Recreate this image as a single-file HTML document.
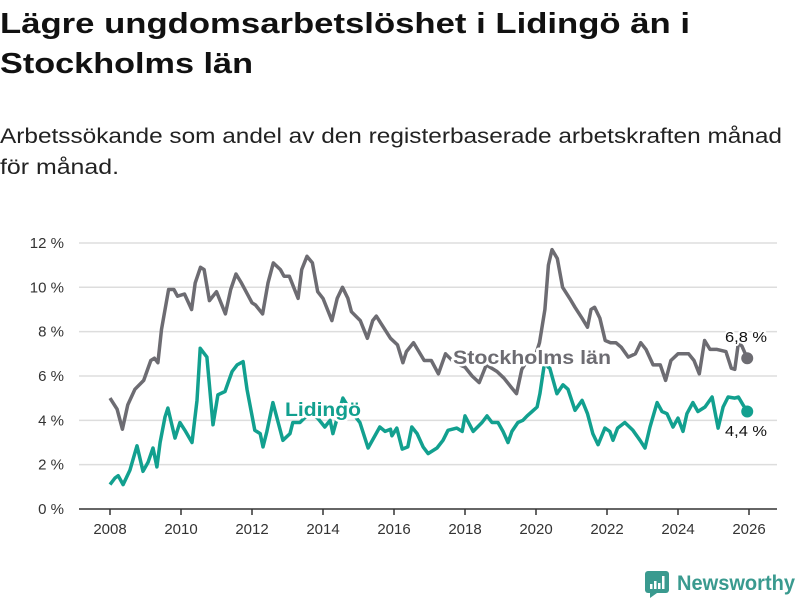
<!DOCTYPE html>
<html><head><meta charset="utf-8"><style>
html,body{margin:0;padding:0;background:#fff;}
svg{display:block;font-family:"Liberation Sans","DejaVu Sans",sans-serif;}
</style></head><body>
<svg id="chart" width="800" height="600" viewBox="0 0 800 600">
<text x="0" y="33" font-size="29" font-weight="bold" fill="#111" textLength="690" lengthAdjust="spacingAndGlyphs">Lägre ungdomsarbetslöshet i Lidingö än i</text>
<text x="0" y="73" font-size="29" font-weight="bold" fill="#111" textLength="253" lengthAdjust="spacingAndGlyphs">Stockholms län</text>
<text x="0" y="143" font-size="21" fill="#222" textLength="782" lengthAdjust="spacingAndGlyphs">Arbetssökande som andel av den registerbaserade arbetskraften månad</text>
<text x="0" y="174" font-size="21" fill="#222" textLength="119" lengthAdjust="spacingAndGlyphs">för månad.</text>
<g id="grid"></g><g id="axes"></g><g id="lines"></g><g id="labels"></g>
<g>
<rect x="645" y="571" width="24" height="22" rx="3" fill="#3a9a8f"/>
<polygon points="650,593 657,593 650,598" fill="#3a9a8f"/>
<rect x="650" y="584" width="2.5" height="5" fill="#fff"/><rect x="654" y="581" width="2.5" height="8" fill="#fff"/><rect x="658" y="583" width="2.5" height="6" fill="#fff"/><rect x="662" y="576" width="2.5" height="13" fill="#fff"/>
<text x="677" y="590" font-size="21" font-weight="bold" fill="#3a9a8f" textLength="118" lengthAdjust="spacingAndGlyphs">Newsworthy</text>
</g>
</svg>
<script>
const yTicks=[0,2,4,6,8,10,12];
const xTicks=[2008,2010,2012,2014,2016,2018,2020,2022,2024,2026];
const sthlmYears=[2008.0,2008.2,2008.35,2008.5,2008.7,2008.95,2009.15,2009.25,2009.35,2009.45,2009.65,2009.8,2009.9,2010.1,2010.3,2010.4,2010.55,2010.65,2010.8,2011.0,2011.25,2011.4,2011.55,2011.7,2011.9,2012.0,2012.1,2012.3,2012.45,2012.6,2012.8,2012.9,2013.05,2013.3,2013.4,2013.55,2013.7,2013.85,2014.0,2014.25,2014.4,2014.55,2014.7,2014.8,2015.05,2015.25,2015.4,2015.5,2015.7,2015.9,2016.1,2016.25,2016.35,2016.55,2016.7,2016.85,2017.05,2017.25,2017.45,2017.7,2018.0,2018.2,2018.4,2018.6,2018.9,2019.1,2019.3,2019.45,2019.6,2019.8,2020.0,2020.1,2020.25,2020.35,2020.45,2020.6,2020.75,2020.95,2021.1,2021.3,2021.45,2021.55,2021.65,2021.8,2021.95,2022.1,2022.25,2022.4,2022.6,2022.8,2022.95,2023.1,2023.3,2023.5,2023.65,2023.8,2024.0,2024.3,2024.45,2024.6,2024.75,2024.9,2025.1,2025.35,2025.5,2025.6,2025.7,2025.8,2025.95];
const sthlmValues=[5.0,4.5,3.6,4.7,5.4,5.8,6.7,6.8,6.6,8.1,9.9,9.9,9.6,9.7,9.0,10.2,10.9,10.8,9.4,9.8,8.8,9.9,10.6,10.2,9.6,9.3,9.2,8.8,10.2,11.1,10.8,10.5,10.5,9.5,10.8,11.4,11.1,9.8,9.5,8.5,9.5,10.0,9.5,8.9,8.5,7.7,8.5,8.7,8.2,7.7,7.4,6.6,7.1,7.5,7.1,6.7,6.7,6.1,7.0,6.6,6.4,6.0,5.7,6.5,6.2,5.9,5.5,5.2,6.3,6.8,7.0,7.5,9.0,11.0,11.7,11.3,10.0,9.5,9.1,8.6,8.2,9.0,9.1,8.6,7.6,7.5,7.5,7.3,6.85,7.0,7.5,7.2,6.5,6.5,5.8,6.7,7.0,7.0,6.7,6.1,7.6,7.2,7.2,7.1,6.35,6.3,7.5,7.35,6.8];
const lidYears=[2008.0,2008.14,2008.23,2008.37,2008.56,2008.76,2008.93,2009.07,2009.21,2009.32,2009.41,2009.55,2009.63,2009.83,2009.97,2010.11,2010.31,2010.45,2010.54,2010.73,2010.9,2011.04,2011.24,2011.35,2011.44,2011.58,2011.75,2011.86,2012.08,2012.23,2012.31,2012.42,2012.59,2012.87,2013.07,2013.15,2013.35,2013.6,2013.85,2014.05,2014.2,2014.28,2014.45,2014.56,2014.75,2015.04,2015.27,2015.6,2015.75,2015.9,2015.94,2016.08,2016.23,2016.39,2016.5,2016.65,2016.82,2016.96,2017.21,2017.38,2017.52,2017.77,2017.92,2018.0,2018.23,2018.48,2018.62,2018.76,2018.93,2019.07,2019.21,2019.32,2019.49,2019.63,2019.75,2019.89,2020.03,2020.11,2020.25,2020.34,2020.39,2020.59,2020.76,2020.9,2021.1,2021.3,2021.45,2021.6,2021.75,2021.94,2022.08,2022.17,2022.3,2022.5,2022.73,2022.93,2023.07,2023.21,2023.41,2023.55,2023.69,2023.86,2024.0,2024.14,2024.25,2024.42,2024.56,2024.76,2024.96,2025.13,2025.27,2025.41,2025.6,2025.7,2025.83,2025.95];
const lidValues=[1.1,1.4,1.5,1.1,1.75,2.85,1.7,2.1,2.75,1.9,3.0,4.15,4.55,3.2,3.9,3.55,3.0,4.9,7.25,6.85,3.8,5.15,5.3,5.8,6.2,6.5,6.65,5.4,3.55,3.4,2.8,3.5,4.8,3.1,3.4,3.9,3.9,4.3,4.1,3.7,4.0,3.4,4.4,5.0,4.5,3.9,2.75,3.7,3.5,3.6,3.3,3.65,2.7,2.8,3.7,3.4,2.8,2.5,2.75,3.1,3.55,3.65,3.5,4.2,3.5,3.9,4.2,3.9,3.9,3.5,3.0,3.5,3.9,4.0,4.2,4.4,4.6,5.2,6.7,6.4,6.35,5.2,5.6,5.4,4.45,4.9,4.3,3.4,2.9,3.65,3.5,3.1,3.65,3.9,3.55,3.1,2.75,3.7,4.8,4.4,4.3,3.7,4.1,3.5,4.3,4.8,4.4,4.6,5.05,3.65,4.6,5.05,5.0,5.05,4.7,4.4];
const X0=2008,PX0=110,PPY=35.5,Y0=509,PPV=22.17;
const xs=v=>PX0+(v-X0)*PPY, ys=v=>Y0-v*PPV;
const NS='http://www.w3.org/2000/svg';
function mk(tag,attrs,parent){const e=document.createElementNS(NS,tag);for(const k in attrs)e.setAttribute(k,attrs[k]);document.getElementById(parent).appendChild(e);return e;}
yTicks.forEach(t=>{
  if(t>0){const g=mk('line',{x1:79,x2:777,y1:ys(t),y2:ys(t),stroke:'#ddd','stroke-width':1.5},'grid');
  
  }
  const l=mk('text',{x:64,y:ys(t)+5,'text-anchor':'end','font-size':15,fill:'#333'},'axes');
  
  
  l.textContent=t+' %';
});
const ax=mk('line',{x1:79,x2:777,y1:Y0,y2:Y0,stroke:'#333','stroke-width':1.5},'axes');


xTicks.forEach(t=>{
  const tk=mk('line',{x1:xs(t),x2:xs(t),y1:Y0,y2:Y0+6,stroke:'#333','stroke-width':1.5},'axes');
  
  
  const l=mk('text',{x:xs(t),y:Y0+25,'text-anchor':'middle','font-size':15,fill:'#333'},'axes');
  
  
  l.textContent=t;
});
function path(yrs,vals){return yrs.map((y,i)=>(i?'L':'M')+xs(y).toFixed(1)+','+ys(vals[i]).toFixed(1)).join('');}
const p1=mk('path',{d:path(sthlmYears,sthlmValues),fill:'none',stroke:'#6d6c72','stroke-width':3.5,'stroke-linejoin':'round'},'lines');


const p2=mk('path',{d:path(lidYears,lidValues),fill:'none',stroke:'#12a08f','stroke-width':3.5,'stroke-linejoin':'round'},'lines');


const n1=sthlmYears.length-1,n2=lidYears.length-1;
const d1=mk('circle',{cx:xs(sthlmYears[n1]),cy:ys(sthlmValues[n1]),r:6,fill:'#6d6c72'},'lines');


const d2=mk('circle',{cx:xs(lidYears[n2]),cy:ys(lidValues[n2]),r:6,fill:'#12a08f'},'lines');


const L=[['Stockholms län',453,364,'#6d6c72',19,true,'stockholms-lan-label',158],['Lidingö',285,416,'#12a08f',19,true,'lidingo-label',76],['6,8 %',725,342,'#111',15,false,'stockholms-end-value',42],['4,4 %',725,436,'#111',15,false,'lidingo-end-value',42]];
L.forEach(a=>{
  const t=mk('text',{x:a[1],y:a[2],fill:a[3],'font-size':a[4],'font-weight':a[5]?'bold':'normal',stroke:'#fff','stroke-width':a[5]?5:4,'paint-order':'stroke','stroke-linejoin':'round',textLength:a[7],lengthAdjust:'spacingAndGlyphs'},'labels');
  
  
  t.textContent=a[0];
});
</script>
</body></html>
